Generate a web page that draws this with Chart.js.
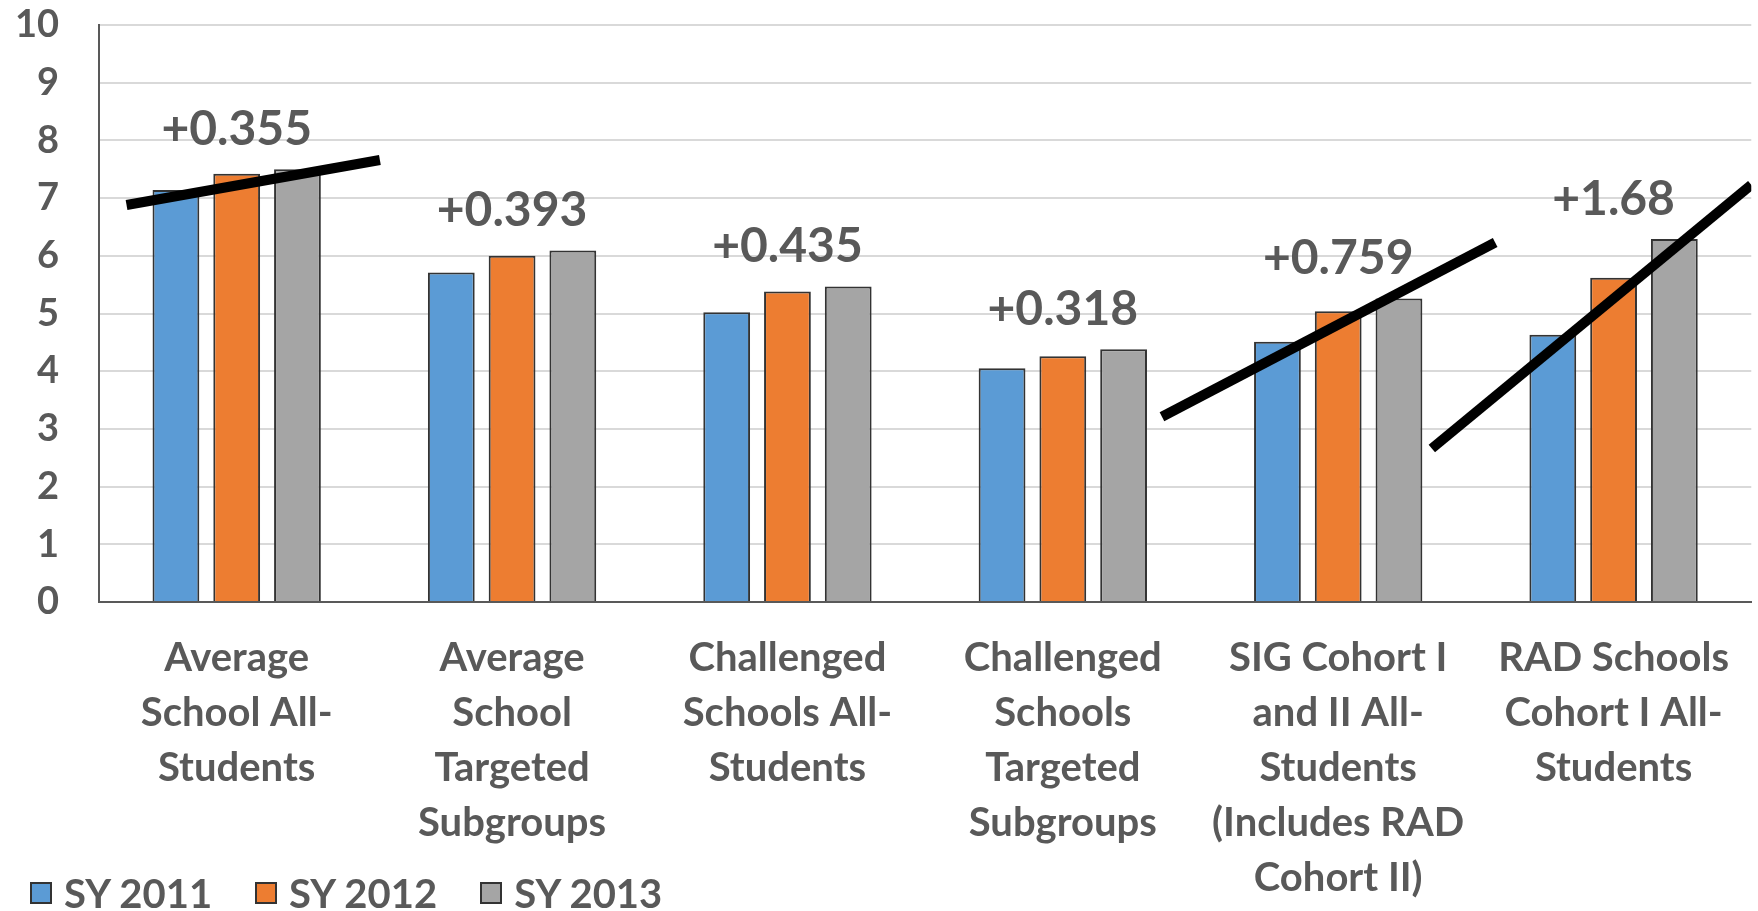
<!DOCTYPE html>
<html>
<head>
<meta charset="utf-8">
<script src="https://cdn.jsdelivr.net/npm/chart.js@4.4.0/dist/chart.umd.min.js"></script>
<style>
  html, body { margin: 0; padding: 0; background: #fff; }
  #wrap { width: 1758px; height: 911px; position: relative; }
  #legend { position: absolute; left: 30px; top: 870px; height: 45px; display: flex; align-items: center;
            font: bold 40px Lato, sans-serif; color: #595959; }
  #legend .item { display: flex; align-items: center; margin-right: 43px; }
  #legend .box { width: 18px; height: 18px; border: 2px solid #333333; margin-right: 12px; }
</style>
</head>
<body>
<div id="wrap"><canvas id="chart"></canvas><div id="legend"></div></div>
<script>
// categories (multi-line x labels)
const categories = [
    ['Average', 'School All-', 'Students'],
    ['Average', 'School', 'Targeted', 'Subgroups'],
    ['Challenged', 'Schools All-', 'Students'],
    ['Challenged', 'Schools', 'Targeted', 'Subgroups'],
    ['SIG Cohort I', 'and II All-', 'Students', '(Includes RAD', 'Cohort II)'],
    ['RAD Schools', 'Cohort I All-', 'Students']
];

const seriesNames = ['SY 2011', 'SY 2012', 'SY 2013'];
const seriesColors = ['#5B9BD5', '#ED7D31', '#A5A5A5'];
const sy2011 = [7.14, 5.71, 5.02, 4.05, 4.51, 4.63];
const sy2012 = [7.42, 6.00, 5.38, 4.26, 5.04, 5.62];
const sy2013 = [7.50, 6.09, 5.47, 4.38, 5.26, 6.29];

// change written above each group
const changeLabels = ['+0.355', '+0.393', '+0.435', '+0.318', '+0.759', '+1.68'];

// hand drawn trend strokes: [category index, value] start and end
const trendLines = [
    [[-0.40, 6.88], [0.52, 7.66]],
    [[3.36, 3.21], [4.57, 6.23]],
    [[4.34, 2.66], [5.50, 7.23]]
];

// value axis
const yMin = 0;
const yMax = 10;
const yStep = 1;

const textGray = '#595959';

const trendPlugin = {
    id: 'trendLines',
    afterDatasetsDraw(chart) {
        const { ctx, chartArea } = chart;
        const xs = chart.scales.x;
        const ys = chart.scales.y;
        ctx.save();
        ctx.beginPath();
        ctx.rect(chartArea.left, 0, chartArea.right - chartArea.left, chartArea.bottom);
        ctx.clip();
        ctx.strokeStyle = '#000000';
        ctx.lineWidth = 10;
        ctx.lineCap = 'butt';
        trendLines.forEach(([a, b]) => {
            ctx.beginPath();
            ctx.moveTo(xs.getPixelForValue(a[0]), ys.getPixelForValue(a[1]));
            ctx.lineTo(xs.getPixelForValue(b[0]), ys.getPixelForValue(b[1]));
            ctx.stroke();
        });
        ctx.restore();
    }
};

const changeLabelPlugin = {
    id: 'changeLabels',
    afterDatasetsDraw(chart) {
        const ctx = chart.ctx;
        const xs = chart.scales.x;
        const ys = chart.scales.y;
        ctx.save();
        ctx.font = 'bold 48px Lato';
        ctx.fillStyle = textGray;
        ctx.textAlign = 'center';
        ctx.textBaseline = 'middle';
        changeLabels.forEach((text, i) => {
            const top = Math.max(sy2011[i], sy2012[i], sy2013[i]);
            ctx.fillText(text, xs.getPixelForValue(i), ys.getPixelForValue(top) - 40);
        });
        ctx.restore();
    }
};

function barSet(i, values) {
    return {
        label: seriesNames[i],
        data: values,
        backgroundColor: seriesColors[i],
        borderColor: '#333333',
        borderWidth: 2
    };
}

function buildLegend() {
    const legend = document.getElementById('legend');
    seriesNames.forEach((name, i) => {
        legend.innerHTML += `<div class="item"><div class="box" style="background:${seriesColors[i]}"></div>${name}</div>`;
    });
}

buildLegend();

const ctx = document.getElementById('chart').getContext('2d');

new Chart(ctx, {
    type: 'bar',
    data: {
        labels: categories,
        datasets: [
            barSet(0, sy2011),
            barSet(1, sy2012),
            barSet(2, sy2013)
        ]
    },
    options: {
        responsive: true,
        maintainAspectRatio: false,
        animation: false,
        layout: { padding: { top: 25, left: 0, right: 0, bottom: 0 } },
        categoryPercentage: 0.662,
        barPercentage: 0.77,
        plugins: {
            legend: { display: false },
            tooltip: { enabled: false }
        },
        scales: {
            x: {
                offset: true,
                grid: { color: 'rgba(0,0,0,0)', drawTicks: false },
                border: { display: true, color: textGray, width: 2 },
                ticks: {
                    color: textGray,
                    font: { family: 'Lato', size: 40, weight: 'bold', lineHeight: 1.375 },
                    padding: 29,
                    autoSkip: false,
                    maxRotation: 0,
                    minRotation: 0
                },
                afterFit: scale => { scale.height = 309; }
            },
            y: {
                min: yMin,
                max: yMax,
                ticks: {
                    stepSize: yStep,
                    color: textGray,
                    padding: 40,
                    font: { family: 'Lato', size: 38, weight: 'bold' }
                },
                grid: { color: '#d9d9d9', lineWidth: 2, drawTicks: false },
                border: { display: true, color: textGray, width: 2 },
                afterFit: scale => {
                    scale.width = 99;
                    scale.paddingTop = 0;
                    scale.paddingBottom = 0;
                }
            }
        }
    },
    plugins: [trendPlugin, changeLabelPlugin]
});
</script>
</body>
</html>
